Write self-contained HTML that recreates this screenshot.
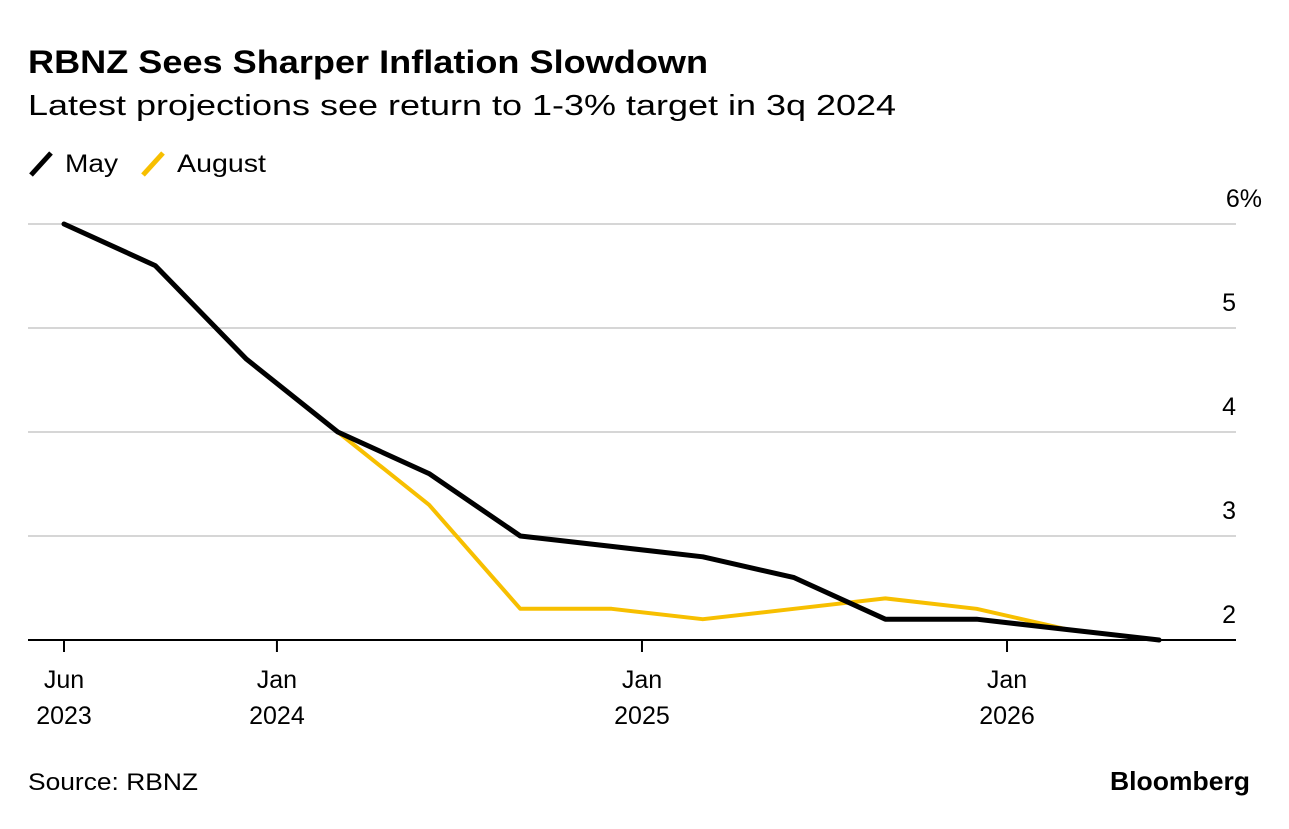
<!DOCTYPE html>
<html><head><meta charset="utf-8"><style>
body{margin:0;background:#fff;width:1289px;height:824px;overflow:hidden;font-family:"Liberation Sans",sans-serif;}
svg text{font-family:"Liberation Sans",sans-serif;}
</style></head><body>
<svg id="chart" width="1289" height="824" xmlns="http://www.w3.org/2000/svg">
<text x="28" y="73" font-size="32" font-weight="bold" fill="#000" textLength="680" lengthAdjust="spacingAndGlyphs">RBNZ Sees Sharper Inflation Slowdown</text>
<text x="28" y="115" font-size="29" fill="#000" textLength="868" lengthAdjust="spacingAndGlyphs">Latest projections see return to 1-3% target in 3q 2024</text>
<g>
<line x1="31" y1="175" x2="51" y2="153" stroke="#000" stroke-width="5"/>
<text x="65" y="172" font-size="25" textLength="53" lengthAdjust="spacingAndGlyphs">May</text>
<line x1="143" y1="175" x2="163" y2="153" stroke="#f7bf00" stroke-width="5"/>
<text x="177" y="172" font-size="25" textLength="89" lengthAdjust="spacingAndGlyphs">August</text>
</g>
<g id="grid"></g><g id="xaxis"></g><g id="series"></g>
<text x="28" y="790" font-size="24" textLength="170" lengthAdjust="spacingAndGlyphs">Source: RBNZ</text>
<text x="1110" y="790" font-size="26" font-weight="bold" textLength="140" lengthAdjust="spacingAndGlyphs">Bloomberg</text>
</svg>
<script>
const months=[0,3,6,9,12,15,18,21,24,27,30,33,36];
const mayValues=[6.0,5.6,4.7,4.0,3.6,3.0,2.9,2.8,2.6,2.2,2.2,2.1,2.0];
const augMonths=[9,12,15,18,21,24,27,30,33,36];
const augValues=[4.0,3.3,2.3,2.3,2.2,2.3,2.4,2.3,2.1,2.0];
const yTicks=[2,3,4,5,6];
const yTickLabels=["2","3","4","5","6%"];
const xTickMonths=[0,7,19,31];
const xTickLine1=["Jun","Jan","Jan","Jan"];
const xTickLine2=["2023","2024","2025","2026"];
const NS="http://www.w3.org/2000/svg";
const x=m=>64+m*30.42;
const y=v=>640-(v-2)*104;
function mk(tag,attrs,parent,txt){const e=document.createElementNS(NS,tag);for(const k in attrs)e.setAttribute(k,attrs[k]);if(txt!==undefined)e.textContent=txt;parent.appendChild(e);return e;}
const grid=document.getElementById('grid');
yTicks.forEach((v,i)=>{
 const l=mk('line',{x1:28,x2:1236,y1:y(v),y2:y(v),stroke:v===2?'#000':'#d6d6d6','stroke-width':2},grid);
 
 
 const t=mk('text',{x:1236,y:y(v)-17,'font-size':25,'text-anchor':'end'},grid,yTickLabels[i]);
 if(i===4){t.setAttribute('x',1262);}
 
 
});
const xa=document.getElementById('xaxis');
xTickMonths.forEach((m,i)=>{
 const l=mk('line',{x1:x(m),x2:x(m),y1:640,y2:652,stroke:'#000','stroke-width':2},xa);
 
 
 const t1=mk('text',{x:x(m),y:688,'font-size':25,'text-anchor':'middle'},xa,xTickLine1[i]);
 
 
 const t2=mk('text',{x:x(m),y:724,'font-size':25,'text-anchor':'middle'},xa,xTickLine2[i]);
 
 
});
const s=document.getElementById('series');
const pa=augMonths.map((m,i)=>x(m)+','+y(augValues[i])).join(' ');
const la=mk('polyline',{points:pa,fill:'none',stroke:'#f7bf00','stroke-width':4,'stroke-linejoin':'round'},s);


const pm=months.map((m,i)=>x(m)+','+y(mayValues[i])).join(' ');
const lm=mk('polyline',{points:pm,fill:'none',stroke:'#000','stroke-width':5,'stroke-linejoin':'round','stroke-linecap':'round'},s);


</script>
</body></html>
